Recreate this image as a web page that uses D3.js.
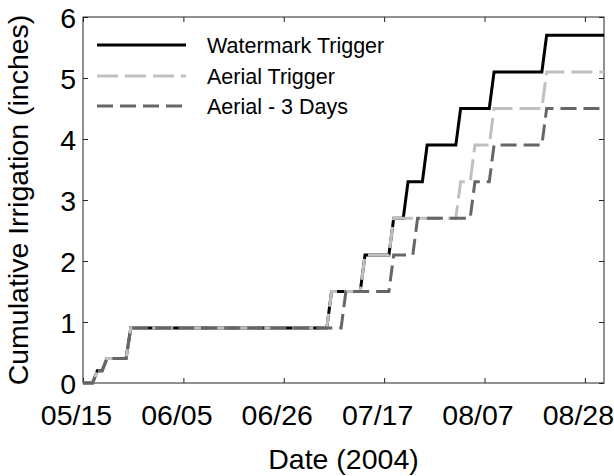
<!DOCTYPE html>
<html>
<head>
<meta charset="utf-8">
<script src="https://cdn.jsdelivr.net/npm/d3@7"></script>
<style>
  html, body { margin: 0; padding: 0; background: #fff; }
  svg { display: block; font-family: "Liberation Sans", Arial, sans-serif; }
</style>
</head>
<body>
<svg id="chart" width="614" height="476"></svg>
<script>
// ---- data ----
const seriesNames = ["Watermark Trigger", "Aerial Trigger", "Aerial - 3 Days"];

const watermarkDates = ["05/15","05/17","05/18","05/19","05/20","05/24","05/25","07/05","07/06","07/12","07/13","07/18","07/19","07/21","07/22","07/25","07/26","08/01","08/02","08/08","08/09","08/19","08/20","09/01"];
const watermarkValues = [0,0,0.2,0.2,0.4,0.4,0.9,0.9,1.5,1.5,2.1,2.1,2.7,2.7,3.3,3.3,3.9,3.9,4.5,4.5,5.1,5.1,5.7,5.7];

const aerialDates = ["05/15","05/17","05/18","05/19","05/20","05/24","05/25","07/05","07/06","07/12","07/13","07/18","07/19","08/01","08/02","08/04","08/05","08/08","08/09","08/19","08/20","09/01"];
const aerialValues = [0,0,0.2,0.2,0.4,0.4,0.9,0.9,1.5,1.5,2.1,2.1,2.7,2.7,3.3,3.3,3.9,3.9,4.5,4.5,5.1,5.1];

const aerial3Dates = ["05/15","05/17","05/18","05/19","05/20","05/24","05/25","07/08","07/09","07/18","07/19","07/23","07/24","08/04","08/05","08/08","08/09","08/19","08/20","09/01"];
const aerial3Values = [0,0,0.2,0.2,0.4,0.4,0.9,0.9,1.5,1.5,2.1,2.1,2.7,2.7,3.3,3.3,3.9,3.9,4.5,4.5];

const xTickLabels = ["05/15","06/05","06/26","07/17","08/07","08/28"];
const yTickValues = [0,1,2,3,4,5,6];
const xDomainLabels = ["05/15","09/01"];
const year = 2004;

// ---- layout ----
const svg = d3.select("#chart");
const pLeft = 83, pRight = 604, pTop = 17, pBottom = 383;
const parse = s => d3.utcParse("%Y/%m/%d")(year + "/" + s);

const x = d3.scaleUtc().domain(xDomainLabels.map(parse)).range([pLeft, pRight]);
const y = d3.scaleLinear().domain([0, 6]).range([pBottom, pTop]);

const axisColor = "#222";
const tickFont = 28.5;

// box
svg.append("rect")
  .attr("x", pLeft).attr("y", pTop)
  .attr("width", pRight - pLeft).attr("height", pBottom - pTop)
  .attr("fill", "none").attr("stroke", axisColor).attr("stroke-width", 1);

const xTicks = xTickLabels.map(parse);

// bottom axis
const xAxis = d3.axisBottom(x).tickValues(xTicks).tickFormat(d3.utcFormat("%m/%d"))
  .tickSizeInner(-5).tickSizeOuter(0).tickPadding(22);
const gx = svg.append("g").attr("transform", `translate(0,${pBottom})`).call(xAxis);
gx.select(".domain").remove();
gx.selectAll("line").attr("stroke", axisColor);
gx.selectAll("text").attr("font-size", tickFont).attr("fill", "#000")
  .attr("dx", -7)
  .attr("font-family", "Liberation Sans, Arial, sans-serif");

// top axis ticks
const gxt = svg.append("g").attr("transform", `translate(0,${pTop})`)
  .call(d3.axisTop(x).tickValues(xTicks).tickSizeInner(-5).tickSizeOuter(0).tickFormat(""));
gxt.select(".domain").remove();
gxt.selectAll("line").attr("stroke", axisColor);

// left axis
const yAxis = d3.axisLeft(y).tickValues(yTickValues).tickFormat(d3.format("d"))
  .tickSizeInner(-5).tickSizeOuter(0).tickPadding(7);
const gy = svg.append("g").attr("transform", `translate(${pLeft},0)`).call(yAxis);
gy.select(".domain").remove();
gy.selectAll("line").attr("stroke", axisColor);
gy.selectAll("text").attr("font-size", tickFont).attr("fill", "#000")
  .attr("dy", "0.36em")
  .attr("font-family", "Liberation Sans, Arial, sans-serif");

// right axis ticks
const gyr = svg.append("g").attr("transform", `translate(${pRight},0)`)
  .call(d3.axisRight(y).tickValues(yTickValues).tickSizeInner(-5).tickSizeOuter(0).tickFormat(""));
gyr.select(".domain").remove();
gyr.selectAll("line").attr("stroke", axisColor);

// axis titles
svg.append("text")
  .attr("x", (pLeft + pRight) / 2).attr("y", 469)
  .attr("text-anchor", "middle").attr("font-size", tickFont).attr("fill", "#000")
  .text("Date (2004)");
svg.append("text")
  .attr("transform", `translate(28,${(pTop + pBottom) / 2}) rotate(-90)`)
  .attr("text-anchor", "middle").attr("font-size", tickFont).attr("fill", "#000")
  .text("Cumulative Irrigation (inches)");

// ---- series ----
const styles = [
  { color: "#000000", dash: null },
  { color: "#c0c0c0", dash: "21,7" },
  { color: "#666666", dash: "16,7" }
];
const series = [
  watermarkDates.map((d, i) => [parse(d), watermarkValues[i]]),
  aerialDates.map((d, i) => [parse(d), aerialValues[i]]),
  aerial3Dates.map((d, i) => [parse(d), aerial3Values[i]])
];
const line = d3.line().x(d => x(d[0])).y(d => y(d[1]));

series.forEach((s, i) => {
  svg.append("path")
    .attr("d", line(s))
    .attr("fill", "none")
    .attr("stroke", styles[i].color)
    .attr("stroke-width", 3)
    .attr("stroke-linejoin", "miter")
    .attr("stroke-dasharray", styles[i].dash);
});

// ---- legend ----
const legendY = [45, 76, 106];
seriesNames.forEach((name, i) => {
  svg.append("line")
    .attr("x1", 97).attr("x2", 186)
    .attr("y1", legendY[i]).attr("y2", legendY[i])
    .attr("stroke", styles[i].color).attr("stroke-width", 3)
    .attr("stroke-dasharray", styles[i].dash);
  svg.append("text")
    .attr("x", 207).attr("y", legendY[i])
    .attr("dy", "0.35em")
    .attr("font-size", 21.5).attr("fill", "#000")
    .text(name);
});
</script>
</body>
</html>
